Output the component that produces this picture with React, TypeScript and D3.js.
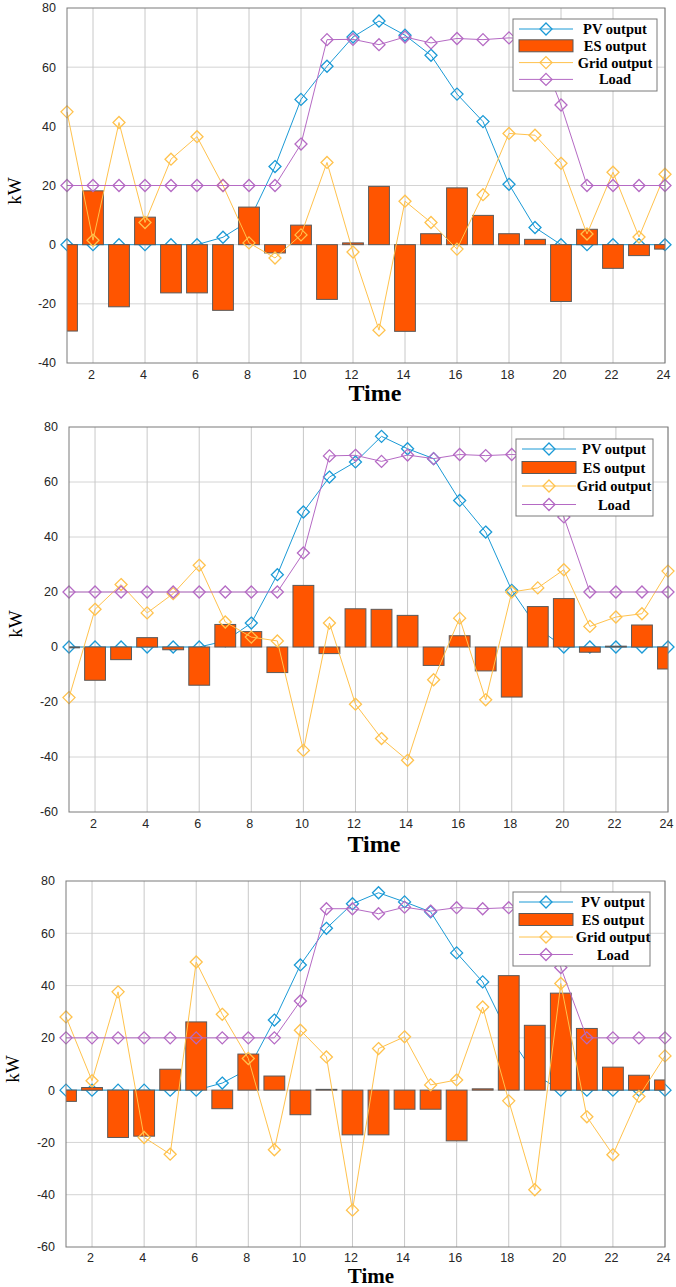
import React from "react";
import * as d3 from "d3";

const hours = [1, 2, 3, 4, 5, 6, 7, 8, 9, 10, 11, 12, 13, 14, 15, 16, 17, 18, 19, 20, 21, 22, 23, 24];
const xTicks = [2, 4, 6, 8, 10, 12, 14, 16, 18, 20, 22, 24];
const yTicksA = [-40, -20, 0, 20, 40, 60, 80];
const yTicksB = [-60, -40, -20, 0, 20, 40, 60, 80];
const seriesNames = ["PV output", "ES output", "Grid output", "Load"];

const pv1 = [0, 0, 0, 0, 0, 0, 2.5, 8, 26.4, 49.1, 60.3, 70.2, 75.6, 70.8, 64, 50.9, 41.6, 20.4, 5.8, 0, 0, 0, 0, 0];
const es1 = [-29.2, 18.2, -21, 9.3, -16.3, -16.3, -22.2, 12.7, -2.8, 6.6, -18.5, 0.6, 19.7, -29.3, 3.7, 19.2, 9.9, 3.7, 1.8, -19.2, 5.2, -8, -3.7, -1.5];
const grid1 = [44.9, 1.5, 41.3, 7.5, 28.9, 36.5, 20, 0.6, -4.5, 3.3, 27.8, -2.5, -28.9, 14.7, 7.5, -1.5, 16.9, 37.6, 37, 27.5, 3.6, 24.5, 2.6, 23.8];
const load1 = [20, 20, 20, 20, 20, 20, 20, 20, 20, 34, 69.3, 69.4, 67.6, 70.2, 68.2, 69.7, 69.3, 69.9, 69.5, 47.2, 20, 20, 20, 20];

const pv2 = [0, 0, 0, 0, 0, 0, 2.2, 8.7, 26.3, 49.1, 61.8, 67.3, 76.6, 72.1, 68.5, 53.3, 41.8, 20.6, 6.8, 0, 0, 0, 0, 0];
const es2 = [-0.3, -12.1, -4.6, 3.4, -1, -13.9, 8.2, 5.6, -9.3, 22.4, -2.4, 13.9, 13.7, 11.5, -6.7, 4.1, -8.7, -18.2, 14.7, 17.6, -1.9, 0.3, 8, -8];
const grid2 = [-18.4, 13.7, 22.7, 12.4, 19.4, 29.7, 9.1, 3.6, 2.2, -37.6, 8.7, -20.8, -33.3, -41.2, -11.9, 10.5, -19.2, 20, 21.5, 28.1, 7.5, 10.9, 12.1, 27.6];
const load2 = [20, 20, 20, 20, 20, 20, 20, 20, 20, 34.2, 69.5, 69.7, 67.5, 69.8, 68.5, 70, 69.6, 70, 69.5, 47.3, 20, 20, 20, 20];

const pv3 = [0, 0, 0, 0, 0, 0, 2.7, 8, 26.8, 47.9, 61.9, 71.3, 75.5, 72, 68.2, 52.5, 41.4, 21, 6, 0, 0, 0, 0, 0];
const es3 = [-4.3, 1, -18.1, -17.6, 8, 26.1, -7.1, 13.8, 5.4, -9.4, 0.3, -17.1, -17.1, -7.3, -7.3, -19.4, 0.5, 43.8, 24.8, 37.1, 23.6, 8.8, 5.7, 3.9];
const grid3 = [28, 3.6, 37.6, -18.1, -24.5, 49, 29, 12.1, -22.8, 22.9, 12.7, -45.9, 15.9, 20.4, 2, 3.9, 31.8, -4.1, -38.1, 40.8, -10.2, -24.7, -2.4, 13.1];
const load3 = [20, 20, 20, 20, 20, 20, 20, 20, 20, 34.1, 69.4, 69.4, 67.5, 70, 68.5, 69.8, 69.4, 69.8, 69.5, 46.9, 20, 20, 20, 20];

const C_PV = "#1b9ad6";
const C_ES = "#ff5500";
const C_ES_EDGE = "#5a5a5a";
const C_GRID = "#ffc24d";
const C_LOAD = "#b56ac4";
const SERIF = "'Liberation Serif', 'Times New Roman', serif";
const SANS = "'Liberation Sans', Arial, Helvetica, sans-serif";

const panels = [
  {
    pv: pv1, es: es1, grid: grid1, load: load1, yTicks: yTicksA, yDomain: [-40, 80],
    box: { l: 67, r: 665, t: 8, b: 363 }, tickOff: 12,
    legend: { x: 513, y: 19, w: 144, h: 72, gap: 16.8, textX: 102 },
    kW: { x: 14, y: 191 }, time: { x: 375, y: 401, size: 24 },
  },
  {
    pv: pv2, es: es2, grid: grid2, load: load2, yTicks: yTicksB, yDomain: [-60, 80],
    box: { l: 69, r: 668, t: 427, b: 812 }, tickOff: 12,
    legend: { x: 516, y: 439, w: 137, h: 77, gap: 18.5, textX: 98 },
    kW: { x: 15, y: 624 }, time: { x: 374, y: 852, size: 24 },
  },
  {
    pv: pv3, es: es3, grid: grid3, load: load3, yTicks: yTicksB, yDomain: [-60, 80],
    box: { l: 66, r: 665, t: 881, b: 1247 }, tickOff: 10.5,
    legend: { x: 513, y: 892, w: 137, h: 74, gap: 17.5, textX: 100 },
    kW: { x: 12, y: 1069 }, time: { x: 371, y: 1282.5, size: 21 },
  },
];

function diamond(cx: number, cy: number, r: number) {
  return `M${cx},${cy - r}L${cx + r},${cy}L${cx},${cy + r}L${cx - r},${cy}Z`;
}

function Panel({ p, idx }: { p: any; idx: number }) {
  const { box, legend } = p;
  const x = d3.scaleLinear().domain([1, 24]).range([box.l, box.r]);
  const y = d3.scaleLinear().domain(p.yDomain).range([box.b, box.t]);
  const bw = x(1.8) - x(1);
  const line = d3.line<number>().x((_, i) => x(hours[i])).y((v) => y(v));
  const clipId = `clip${idx}`;
  const mr = 6;

  const lineSeries = (vals: number[], color: string) => (
    <g>
      <path d={line(vals) || ""} fill="none" stroke={color} strokeWidth={1} />
      {vals.map((v, i) => (
        <path key={i} d={diamond(x(hours[i]), y(v), mr)} fill="none" stroke={color} strokeWidth={1.3} />
      ))}
    </g>
  );

  const lx0 = legend.x + 6;
  const lx1 = legend.x + 60;
  const lmx = legend.x + 33;
  const rowY = (k: number) => legend.y + 10 + k * legend.gap;

  return (
    <g>
      <defs>
        <clipPath id={clipId}>
          <rect x={box.l} y={box.t} width={box.r - box.l} height={box.b - box.t} />
        </clipPath>
      </defs>
      <rect x={box.l} y={box.t} width={box.r - box.l} height={box.b - box.t} fill="#ffffff" />
      {p.yTicks.filter((t: number) => t !== p.yDomain[0] && t !== p.yDomain[1]).map((t: number) => (
        <line key={"gy" + t} x1={box.l} x2={box.r} y1={y(t)} y2={y(t)} stroke="#d4d4d4" strokeWidth={1} />
      ))}
      {xTicks.map((t) => (
        <line key={"gx" + t} x1={x(t)} x2={x(t)} y1={box.t} y2={box.b} stroke="#c8c8c8" strokeWidth={1} />
      ))}
      {lineSeries(p.pv, C_PV)}
      <g clipPath={`url(#${clipId})`}>
        {p.es.map((v: number, i: number) => (
          <rect
            key={i}
            x={x(hours[i]) - bw / 2}
            y={Math.min(y(v), y(0))}
            width={bw}
            height={Math.abs(y(v) - y(0))}
            fill={C_ES}
            stroke={C_ES_EDGE}
            strokeWidth={1}
          />
        ))}
      </g>
      {lineSeries(p.grid, C_GRID)}
      {lineSeries(p.load, C_LOAD)}
      <rect x={box.l} y={box.t} width={box.r - box.l} height={box.b - box.t} fill="none" stroke="#7a7a7a" strokeWidth={1} />
      {p.yTicks.map((t: number) => (
        <text key={"ty" + t} x={box.l - 11} y={y(t)} dy="0.35em" textAnchor="end" fontFamily={SANS} fontSize={12.5} fill="#262626">
          {t}
        </text>
      ))}
      {xTicks.map((t) => (
        <text key={"tx" + t} x={x(t) - 1.5} y={box.b + p.tickOff} dy="0.35em" textAnchor="middle" fontFamily={SANS} fontSize={12.5} fill="#262626">
          {t}
        </text>
      ))}
      <text x={p.time.x} y={p.time.y} textAnchor="middle" fontFamily={SERIF} fontWeight="bold" fontSize={p.time.size} fill="#000">
        Time
      </text>
      <text
        transform={`translate(${p.kW.x},${p.kW.y}) rotate(-90)`}
        textAnchor="middle"
        dy="0.35em"
        fontFamily={SERIF}
        fontSize={19}
        fill="#000"
      >
        kW
      </text>
      <g>
        <rect x={legend.x} y={legend.y} width={legend.w} height={legend.h} fill="#ffffff" stroke="#7a7a7a" strokeWidth={1} />
        <line x1={lx0} x2={lx1} y1={rowY(0)} y2={rowY(0)} stroke={C_PV} strokeWidth={1} />
        <path d={diamond(lmx, rowY(0), mr)} fill="none" stroke={C_PV} strokeWidth={1.3} />
        <rect x={lx0} y={rowY(1) - 6} width={lx1 - lx0} height={12} fill={C_ES} stroke={C_ES_EDGE} strokeWidth={1} />
        <line x1={lx0} x2={lx1} y1={rowY(2)} y2={rowY(2)} stroke={C_GRID} strokeWidth={1} />
        <path d={diamond(lmx, rowY(2), mr)} fill="none" stroke={C_GRID} strokeWidth={1.3} />
        <line x1={lx0} x2={lx1} y1={rowY(3)} y2={rowY(3)} stroke={C_LOAD} strokeWidth={1} />
        <path d={diamond(lmx, rowY(3), mr)} fill="none" stroke={C_LOAD} strokeWidth={1.3} />
        {seriesNames.map((n, k) => (
          <text key={n} x={legend.x + legend.textX} y={rowY(k)} dy="0.35em" textAnchor="middle" fontFamily={SERIF} fontWeight="bold" fontSize={14.5} fill="#000">
            {n}
          </text>
        ))}
      </g>
    </g>
  );
}

export default function App() {
  return (
    <svg
      width={676}
      height={1287}
      viewBox="0 0 676 1287"
      style={{ position: "absolute", left: 0, top: 0, background: "#ffffff" }}
    >
      <rect x={0} y={0} width={676} height={1287} fill="#ffffff" />
      {panels.map((p, i) => (
        <Panel key={i} p={p} idx={i} />
      ))}
    </svg>
  );
}
